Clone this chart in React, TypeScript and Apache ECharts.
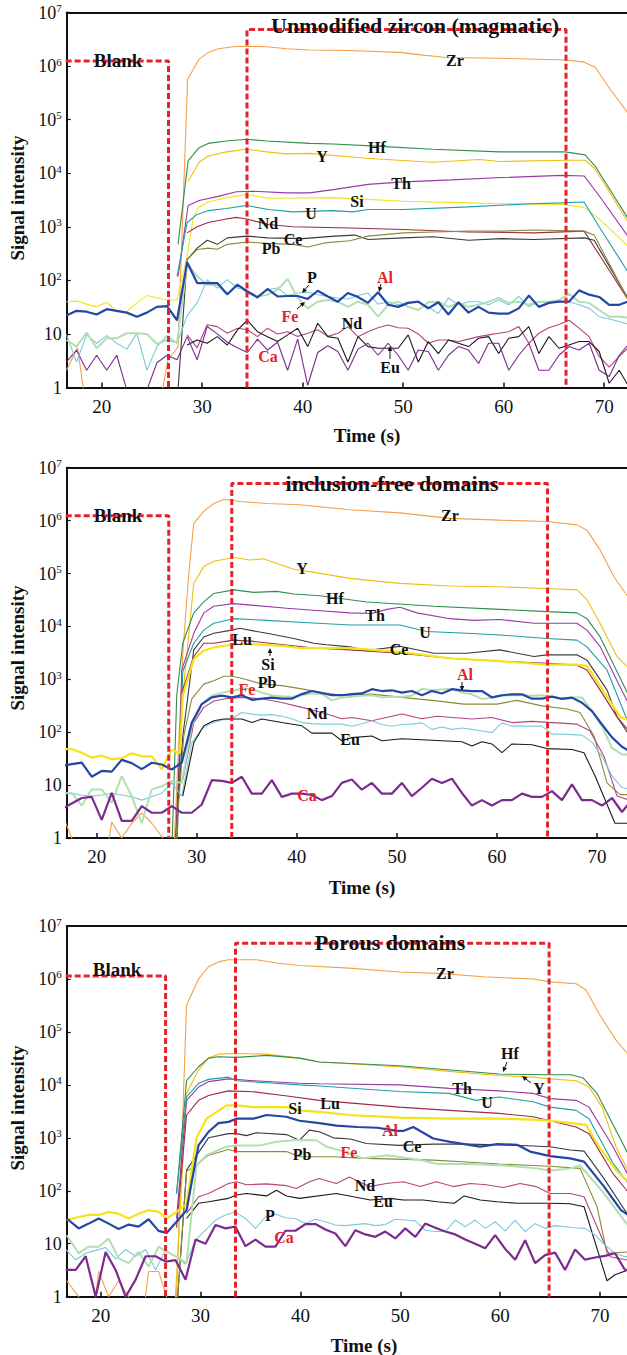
import React, { useEffect, useRef } from 'react';
import * as echarts from 'echarts';

const FONT = '"Liberation Serif", "DejaVu Serif", serif';
const RED = '#e3222b';
const BLACK = '#111111';

// common 1-s sampling grid (s)
const T = [16.5,17.5,18.5,19.5,20.5,21.5,22.5,23.5,24.5,25.5,26.5,27.5,28.5,29.5,30.5,31.5,32.5,33.5,34.5,35.5,36.5,37.5,38.5,39.5,40.5,41.5,42.5,43.5,44.5,45.5,46.5,47.5,48.5,49.5,50.5,51.5,52.5,53.5,54.5,55.5,56.5,57.5,58.5,59.5,60.5,61.5,62.5,63.5,64.5,65.5,66.5,67.5,68.5,69.5,70.5,71.5,72.5,73.5];

// ---------- Panel 1: unmodified zircon ----------
const al1 = [22,27,26,23,29,27,25,21,25,32,33,18,217,89,89,89,55,83,62,48,69,50,51,51,45,64,50,40,58,49,38,60,35,32,38,40,30,39,23,39,25,32,25,24,24,30,52,32,38,40,40,65,54,49,35,35,41,41];
const fe1 = [7.7,5.8,10.6,5.4,8.3,8.3,10.3,10.3,10,6.5,7.7,6.9,210,119,83,83,54,83,58,50,54,67,106,47,30,40,43,40,32,40,35,21,35,40,32,28,39,40,32,38,32,35,40,47,38,40,35,40,40,43,56,40,38,28,21,21,20,20];
const p1P = [9.6,3,9.6,6.7,9.3,6.7,5.2,10.3,2.1,5.8,9.3,6.7,22,38,103,72,103,72,65,50,67,72,52,58,60,54,50,47,45,52,58,36,40,35,39,39,32,24,47,35,40,40,35,43,35,50,32,40,40,40,40,35,30,21,19,17,15,15];
const ca1 = [3,5,2.1,4,2.1,4,0.9,0.9,0.9,2.9,4,3.3,8.9,3.3,13.8,10,7,5.5,4.5,8,5,7,2.1,8,1.1,4.5,6,4.7,2.1,5.2,6.7,4,6.7,4,2.1,5,4.7,2.1,4,5.8,5,2.8,6.7,6.7,2.1,4,6.7,2.1,2.1,4,5.8,5,6.7,2.1,1.6,4,6.7,6.7];
const ndLow1 = [null,null,null,null,null,null,null,null,null,null,null,null,9.6,5.5,14.8,13.7,10.3,12.8,12,8.9,12.8,10,11,9,10.3,12,9,10.3,13.7,8.9,11,13,14.7,13,12.8,10,6.7,7.7,7.7,7.2,8,8.9,9.6,10.3,11,13.7,6.7,10.3,13,15,18,12.8,8.9,3.8,2.4,3.8,5.8,5.8];
const eu1 = [null,null,null,null,null,null,null,null,null,null,null,null,6.2,7.7,6.7,8.9,6.2,11.8,18,11,8.9,7.2,9.6,12.8,5.8,15.8,8.9,8.3,3,8.9,5.8,5.4,5.4,5.4,9.6,3,7.2,4.3,7.7,6.7,5.8,8.3,8.9,4.3,8.3,8.9,13.7,4.3,8.9,5.4,6.2,7.2,7.2,4.7,1.2,2.1,1,1];
const zr1 = [[16.5,2.1],[17.6,5.5],[18.4,0.5],[25.8,0.5],[26.6,3.3],[27.6,5.7],[28.55,5.7e5],[29.7,1.35e6],[30.6,1.8e6],[31.6,2.1e6],[33.1,2.3e6],[34.4,2.35e6],[36.4,2.3e6],[38.4,2.1e6],[40.7,2.0e6],[44.6,1.95e6],[49.6,1.8e6],[52,1.6e6],[54.3,1.45e6],[59.6,1.4e6],[66.1,1.3e6],[67.9,1.2e6],[69.1,9.5e5],[70.6,3.7e5],[72.4,1.3e5]];
const hf1 = [[27.6,470],[28.6,1.7e4],[29.7,3e4],[30.6,3.6e4],[32.4,4e4],[34.4,4.3e4],[36.4,4e4],[40.7,3.6e4],[43,3.5e4],[47.3,3.2e4],[52.9,2.8e4],[59.6,2.5e4],[66.1,2.5e4],[68.1,2.2e4],[69.1,1.36e4],[72.4,1.4e3]];
const y1 = [[28.6,7e3],[29.7,1.6e4],[30.6,2.1e4],[32.4,2.5e4],[34.4,2.8e4],[36.4,2.5e4],[38.4,2.3e4],[40.7,2.35e4],[46.3,1.9e4],[52.9,1.6e4],[57.6,1.8e4],[59.6,1.65e4],[66.1,1.75e4],[68.1,1.75e4],[69.1,1.2e4],[72.4,1.2e3]];
const th1 = [[27.6,118],[28.6,2.5e3],[29.7,3.1e3],[31.6,3.7e3],[33.4,4.5e3],[35.1,4.6e3],[38.4,4.3e3],[40.7,4.3e3],[43.2,5e3],[46.5,6.2e3],[50,6.9e3],[54.8,7.5e3],[59.8,8.3e3],[65.8,9.1e3],[68,8.9e3],[69.5,3.8e3],[72.4,650]];
const si1 = [[16.5,40],[17.5,41],[18.5,36],[19.5,32],[20.5,39],[21.5,26],[22.5,26],[23.5,38],[24.5,52],[25.5,47],[26.5,43],[27.5,43],[28.5,280],[29.1,1.4e3],[29.6,2.3e3],[30.6,2.9e3],[32.4,3.5e3],[34.4,4e3],[36.6,3.4e3],[43.2,3.5e3],[50,3e3],[56.5,2.8e3],[59.8,2.7e3],[65.8,2.6e3],[68,2.3e3],[69.5,1.4e3],[72.4,430]];
const u1 = [[27.5,119],[28.5,1.2e3],[29.5,1.7e3],[30.6,2e3],[32.4,2.2e3],[34.4,2.5e3],[36.6,2.1e3],[39,1.9e3],[43,2e3],[45,1.9e3],[46.5,2.1e3],[50,2.1e3],[56.5,2.35e3],[62.8,2.7e3],[65.8,2.8e3],[68,2.9e3],[69.5,1e3],[72.4,140]];
const ndHi1 = [[28.5,770],[29.5,1e3],[30.6,1.2e3],[32.4,1.4e3],[33.4,1.5e3],[34.4,1.4e3],[36.6,1.1e3],[39,1e3],[44.7,950],[50,890],[56.5,800],[63,770],[68,830],[72.4,43]];
const ce1 = [[27.5,0.5],[28.5,245],[29.5,400],[30.5,560],[31.5,470],[32.5,620],[34.5,670],[36.5,620],[40,600],[43.2,670],[45.2,700],[46.5,580],[50,620],[53,650],[56.5,560],[59.8,600],[63,580],[68,620],[69,560],[72.4,45]];
const pb1 = [[28.5,245],[29.5,376],[30.6,400],[31.5,380],[32.5,470],[34.5,520],[36.5,490],[39,470],[40.5,420],[42.2,500],[44.7,550],[46.5,670],[50,770],[53,800],[56.5,830],[59.8,830],[63,870],[68,830],[69,700],[72.4,43]];

// ---------- Panel 2: inclusion-free domains ----------
const ca2 = [3.5,4.5,5.7,6,2.2,7.1,2.1,2.1,4,3,3,4,3,3,4.3,12.4,12,11,14.4,6.9,6.9,12.4,6,6.9,6.9,6.5,5.2,6.2,11,12.8,8.2,11,6.9,6.9,11,6.2,8.9,13.2,11,13.2,7.1,4.1,5.2,4.1,5.2,5.2,6.9,6,6,7.7,5.2,10.3,5.2,5.2,4.1,5.7,3.1,5.3];
const al2 = [23,25,26.5,14.4,18.5,18,30,26,20,26.5,24.5,19.7,26.5,150,340,455,490,455,500,410,430,450,430,430,525,600,550,500,500,525,540,650,600,620,560,600,500,600,540,650,620,600,600,455,500,520,520,430,430,470,425,450,360,250,140,80,53,41];
const fe2 = [7,7.1,4.1,8.3,8.3,4.6,14.8,6.2,1.9,8.3,9.5,12,11,132,340,490,560,600,670,660,560,500,480,470,500,540,530,400,455,470,490,500,455,470,470,490,660,620,640,660,560,520,425,455,490,500,500,490,500,470,440,455,455,250,130,50,38,38];
const p2P = [7,6.9,6.5,6.2,6.5,7,6.5,6,5.2,6,7,11,6.2,63,115,150,170,180,235,220,210,215,200,180,152,145,142,142,142,130,145,165,140,130,140,142,150,113,125,113,120,113,105,98,150,130,130,130,130,92,92,90,88,65,35,15,9,8.3];
const zr2 = [[16.5,3],[17.5,1],[18.2,0.5],[21,0.5],[21.5,2],[22.5,1],[23.5,1.9],[24.5,3],[25.5,1.9],[26.6,1],[27.2,0.5],[27.7,0.5],[28.6,3e3],[29.2,1e5],[29.7,8.9e5],[30.7,1.5e6],[31.7,2.1e6],[32.7,2.5e6],[33.7,2.4e6],[34.3,2.3e6],[37,2.1e6],[40.3,2e6],[45.3,1.6e6],[50.3,1.4e6],[55.3,1.1e6],[60.3,1.02e6],[65,9.6e5],[68,8.3e5],[69,6.6e5],[70.3,2.8e5],[71.7,8.7e4],[73.2,3.4e4]];
const y2 = [[28.6,500],[29.7,6.5e4],[30.7,1.35e5],[31.7,1.7e5],[33.7,2e5],[35.3,1.8e5],[36.7,1.9e5],[38,1.55e5],[39.7,1.2e5],[41.7,1.05e5],[45.3,8.1e4],[50.3,6.5e4],[55.3,5.8e4],[60.3,5.6e4],[65,5.2e4],[68,4.9e4],[69,3.2e4],[70.3,1.15e4],[72,2.7e3],[73.2,1.6e3]];
const hf2 = [[27.5,0.5],[28,500],[28.6,4.8e3],[29.7,1.8e4],[30.7,2.9e4],[31.7,4.2e4],[33.7,4.9e4],[35.7,4.4e4],[38,4.6e4],[39.7,4.1e4],[42.3,3.8e4],[47,2.9e4],[53.7,2.4e4],[60.3,2.1e4],[65,1.9e4],[68,1.8e4],[69,1.4e4],[70.3,6.4e3],[73.2,480]];
const th2 = [[28,0.5],[28.5,1.5e3],[29.7,7.4e3],[30.7,1.8e4],[31.7,2.4e4],[33.7,2.7e4],[35.7,2.5e4],[39,2.2e4],[42,2e4],[45.3,1.8e4],[47.5,1.75e4],[49,2.1e4],[50.3,2.3e4],[52,1.8e4],[55.3,1.4e4],[57.7,1.3e4],[60.3,1.35e4],[63.7,1.15e4],[68,1.15e4],[69,8.5e3],[70.3,4.2e3],[73.2,330]];
const u2 = [[28,0.5],[28.6,1.4e3],[29.7,4.8e3],[30.7,8.5e3],[31.7,1.15e4],[33.7,1.4e4],[37,1.3e4],[40.3,1.2e4],[45.3,1.06e4],[50.3,1.06e4],[53,8e3],[57,7.4e3],[60.3,6.9e3],[65,5.9e3],[68,5.5e3],[69,4.1e3],[71,1.5e3],[73.2,140]];
const ce2 = [[27.8,0.5],[28.6,83],[29.7,3.6e3],[30.7,6.3e3],[31.7,7.4e3],[33.5,8.5e3],[34.3,9.2e3],[37,7.4e3],[39.7,5.9e3],[41.7,4.8e3],[43,4.5e3],[45.3,4.1e3],[47,3.5e3],[50.3,4.2e3],[53.7,3.1e3],[57,3.1e3],[60.3,3.6e3],[63.7,2.7e3],[65,2.9e3],[68,2.9e3],[69,2.3e3],[71,630],[72,196],[73.2,90]];
const lu2 = [[27.8,0.5],[28.6,630],[29.7,2.7e3],[30.7,4.8e3],[31.7,4.8e3],[33.7,5.5e3],[35.7,5.2e3],[38.7,4.5e3],[41.7,3.9e3],[45.3,3.6e3],[50.3,3.1e3],[55.3,2.5e3],[60.3,2.2e3],[65,2e3],[68,1.85e3],[69,1.5e3],[70.3,630],[72,195],[73.2,105]];
const si2 = [[16.5,48],[17.5,48],[18.5,41],[19.5,33],[20.5,36],[21.5,31],[22.5,32],[23.5,40],[24.5,35],[25.5,35],[26.5,20],[27.5,46],[28.3,40],[28.6,490],[29.7,2.4e3],[30.7,3.5e3],[31.7,4e3],[33.5,4.5e3],[34.5,4.7e3],[36.5,4.5e3],[38.5,4.3e3],[40.3,3.9e3],[45.3,3.9e3],[50.3,3.3e3],[55.3,2.5e3],[60.3,2.2e3],[65,1.9e3],[68,1.9e3],[69,1.8e3],[71,470],[72.3,195],[73.2,170]];
const pb2 = [[27.8,0.5],[28.7,85],[29.5,425],[30.7,810],[31.7,940],[32.7,1.14e3],[33.5,1.14e3],[34.5,1.05e3],[36.5,810],[38.5,760],[40.5,660],[42.5,560],[44.5,500],[47.5,525],[50.5,455],[53.5,400],[56.7,340],[60,340],[62,400],[64.5,315],[67,275],[68.3,235],[69.7,85],[71,11],[72.3,6.6],[73.5,6.6]];
const nd2 = [[28.6,12.7],[29.7,150],[30.7,295],[31.7,390],[32.7,425],[34.5,455],[36.5,430],[38.5,365],[40.5,295],[42.5,235],[44.5,180],[45.5,190],[47.5,165],[50.5,220],[52.5,180],[54,200],[57.5,178],[59.5,190],[61.5,152],[63.5,160],[66,150],[68,142],[69.3,106],[70.7,35],[72,6.2],[73.5,5]];
const eu2 = [[28.6,6.2],[29.7,63],[30.7,132],[31.7,165],[32.7,178],[34.5,178],[35.5,152],[36.5,178],[38.5,152],[40.5,132],[41.5,96],[43.5,96],[44.5,69],[45.5,79],[47.5,85],[48.5,69],[50.5,75],[52.5,72],[54.5,69],[56.5,66],[57.5,55],[58.5,66],[59.5,60],[60.5,41],[61.5,60],[63.5,58],[65,49],[67.5,47],[68.7,41],[69.8,15],[71.8,1.9],[73.5,1.9]];

// ---------- Panel 3: porous domains ----------
const ca3 = [3.2,3.2,5.8,1,7,3.2,1,2.1,5.8,5.8,4.6,4.9,2.1,12,10,22.6,19.5,21,9,12,8.8,8.8,17.6,17.6,23.5,23.5,18.6,15.6,9,18,15,13.5,17,12.6,19.5,13.5,24,20,17,15,12,10,8.2,14.6,8,5,11.7,4.3,6.1,6.8,3.2,7.8,5,5.5,5.9,6.6,3.2,3.2];
const p3P = [7.8,5,6.6,7.5,8.5,5.2,7.8,5.8,7.8,3.2,7.6,5.7,4.1,11.7,18,28,35,40,30,19.5,32,36,31,30,24,29,26,22.6,22,23,24,22,23,29,28,27,18,17,17,28,21,28,19.5,26,17.5,28,17,24,19.5,22,21,20,19.5,14.6,9.4,6.6,5.7,5.7];
const zr3 = [[16.6,2],[17.8,1],[18.3,0.5],[19.3,0.5],[19.8,3],[20.8,1],[21.8,2],[22.8,1],[23.3,0.5],[24.3,0.5],[24.8,3],[25.8,3],[26.6,1],[27.1,0.5],[27.6,1],[28.6,3.2e5],[29.8,1e6],[30.8,1.7e6],[31.8,2.1e6],[32.8,2.3e6],[35.6,2.3e6],[37.6,2e6],[39.9,1.8e6],[44.9,1.6e6],[49.9,1.35e6],[54.3,1.26e6],[58.3,1.1e6],[63.3,1e6],[65,8.8e5],[67.6,8.1e5],[68.6,6.2e5],[69.9,2.2e5],[71.6,7e4],[72.8,3.8e4]];
const y3 = [[27.4,0.5],[28.6,6.9e3],[29.8,1.9e4],[30.8,3.2e4],[31.8,3.8e4],[33.6,3.9e4],[36.6,3.8e4],[39.9,3.2e4],[41.9,2.7e4],[44.9,2.5e4],[49.9,2.2e4],[54.9,1.8e4],[59.9,1.5e4],[63.3,1.4e4],[65,1.3e4],[67.6,1.2e4],[68.9,9.1e3],[70.2,3.8e3],[71.6,680],[72.8,240]];
const hf3 = [[27.6,89],[28.6,1.2e4],[29.8,2.2e4],[30.8,3.2e4],[31.8,3.4e4],[33.6,3.3e4],[36.6,3.6e4],[39.9,3.2e4],[41.9,2.7e4],[49.9,2.3e4],[59.9,1.6e4],[65,1.55e4],[67.1,1.55e4],[68.3,1.35e4],[69.7,6.9e3],[72.8,500]];
const th3 = [[27.6,30],[28.6,5.1e3],[29.8,9.1e3],[30.8,1.15e4],[32.8,1.3e4],[35.3,1.2e4],[39.9,1.07e4],[41.9,1.05e4],[49.9,1e4],[54.9,8.6e3],[59.9,7.7e3],[63.3,6.9e3],[65,5.5e3],[67.6,5.1e3],[68.9,3.8e3],[71.3,680],[72.8,200]];
const u3 = [[27.6,89],[28.6,5.9e3],[29.8,1.07e4],[30.8,1.27e4],[32.8,1.4e4],[33.6,1.2e4],[36.6,1.1e4],[39.9,1e4],[41.9,9.5e3],[49.9,7.5e3],[54.9,6.9e3],[57.6,5.1e3],[59.9,5.9e3],[63.3,4.8e3],[65,3.8e3],[67.6,3.3e3],[68.9,2.3e3],[71.3,330],[72.8,140]];
const lu3 = [[27.6,20],[28.6,2.7e3],[29.8,5.1e3],[30.8,6.3e3],[32.8,7.7e3],[35.3,7.4e3],[38.3,6.3e3],[41.9,5.1e3],[49.9,3.8e3],[54.9,3.3e3],[59.9,2.9e3],[63.3,2.5e3],[65,2.1e3],[67.6,1.6e3],[68.9,1.2e3],[71.3,210],[72.8,95]];
const si3 = [[16.6,28],[17.8,32],[18.8,35],[19.8,35],[20.8,40],[21.8,37],[22.8,30],[23.8,37],[24.8,43],[25.8,40],[26.6,30],[27.6,40],[28.6,56],[29.6,1e3],[30.6,2.3e3],[32.6,4.1e3],[33.6,4.1e3],[35.3,3.8e3],[38.6,3.8e3],[39.9,3.3e3],[41.9,3.1e3],[44.9,2.7e3],[49.9,2.4e3],[54.9,2.3e3],[59.9,2.3e3],[63.3,2.2e3],[65,2.1e3],[67.6,1.85e3],[68.6,1.75e3],[69.9,680],[71.6,245],[72.8,150]];
const al3 = [[16.6,30],[17.8,19.5],[18.8,24],[19.8,30],[20.8,24],[21.8,19],[22.8,23],[23.8,21],[24.8,29],[25.8,17.5],[26.6,16],[27.6,26],[28.6,43],[29.8,730],[30.8,1.3e3],[31.8,1.9e3],[32.8,2e3],[33.6,2.3e3],[35.3,2.3e3],[36.6,2.7e3],[38.6,2.5e3],[39.9,2.1e3],[41.9,1.9e3],[43.6,1.7e3],[45.7,1.6e3],[47.7,1.55e3],[49.7,1.35e3],[50.3,1.35e3],[51.3,1.6e3],[53.3,970],[55,840],[58,680],[59.7,760],[61.7,740],[63,550],[65,450],[67,410],[68.4,355],[70.4,120],[72.1,43],[72.8,35]];
const ce3 = [[27.6,0.5],[28.6,245],[30.8,1e3],[32.8,1.2e3],[33.6,1.2e3],[34.6,1.1e3],[35.6,1.25e3],[38.6,1.15e3],[39.9,900],[40.9,1.4e3],[41.9,1.3e3],[43.3,1e3],[45,950],[46.6,780],[49.9,720],[53.3,760],[56.6,760],[59.9,740],[63.3,700],[65,680],[67,590],[68.4,560],[70.4,170],[72.8,35]];
const fe3 = [[16.6,14.5],[17.8,6.6],[18.8,8.8],[19.8,8.8],[20.8,12.6],[21.8,5.3],[22.8,4.3],[23.8,7],[24.8,3.7],[25.8,8.8],[26.6,7],[27.6,5.7],[28.6,4.3],[29.6,300],[30.6,470],[32.6,680],[33.6,720],[36,720],[37.6,840],[39.6,910],[41.6,900],[42.6,680],[44.4,550],[46.3,410],[48.7,470],[52,380],[53.7,320],[57,320],[60.4,300],[63.7,265],[65,240],[67,265],[68,300],[70.4,89],[72.8,22]];
const pb3 = [[27.6,0.5],[28.6,230],[29.8,330],[30.8,470],[32.8,600],[33.6,550],[38.6,550],[39.9,440],[43.3,440],[46.6,410],[53.3,380],[56.6,350],[59.9,320],[63.3,300],[65,290],[68,265],[69.7,50],[70.7,6.6],[72.8,7]];
const nd3 = [[28.6,37],[29.8,77],[30.8,89],[31.8,110],[32.8,137],[33.6,148],[34.6,130],[36.6,135],[38.6,125],[39.6,110],[40.9,148],[41.9,170],[43.6,137],[44.9,183],[46.9,120],[48.6,137],[50.3,148],[52,120],[53.6,148],[55.3,120],[57,137],[58.6,130],[60.3,115],[62,137],[63.6,120],[65,89],[67,89],[68.4,77],[69.7,21],[71,5.7],[72.8,4.9]];
const eu3 = [[28.6,30],[29.8,58],[30.8,62],[32.8,72],[33.6,83],[34.6,89],[36.6,80],[37.6,102],[38.6,80],[39.9,72],[43.6,89],[45.3,77],[47,67],[49,72],[50.3,67],[52.3,67],[53.7,62],[55.4,58],[56.4,80],[58,67],[59.7,62],[61.7,58],[63.7,58],[65,58],[67,57],[68.4,50],[70.7,2],[71.5,2.6],[72.8,3.2]];

// dashed windows: [blank end time, blank level, window start, window end, window level]
const win1 = [26.65, 1.25e6, 34.46, 66.2, 4.8e6];
const win2 = [27.2, 1.23e6, 33.5, 65.06, 5e6];
const win3 = [26.5, 1.14e6, 33.5, 64.9, 4.7e6];

const COL = {
  Zr: '#f5a04a', Hf: '#2f8f4e', Y: '#efbf10', Th: '#9a3aa6', Si: '#f2e418', U: '#1f9ea6',
  Lu: '#9c2b45', Ce: '#3a3a3a', Pb: '#8a8a3a', P: '#7ccbd8', Fe: '#b2dfb0', Al: '#2446a6',
  Ca: '#7c2a8f', Nd: '#b5447f', Eu: '#1a1a1a',
};

const PANELS = [
  { top: 12.5, height: 375, xMin: 16.52, xMax: 72.27 },
  { top: 467.7, height: 370.3, xMin: 17.0, xMax: 73.0 },
  { top: 926, height: 370.7, xMin: 16.6, xMax: 72.7 },
];

const dense = (vals: (number | null)[]) => T.map((t, i) => [t, vals[i] == null ? '-' : vals[i]]);

function line(gi: number, data: any[], color: string, width = 1.1) {
  return {
    type: 'line', xAxisIndex: gi * 2, yAxisIndex: gi, data, symbol: 'none', showSymbol: false,
    lineStyle: { color, width }, itemStyle: { color }, silent: true, clip: true, animation: false,
  };
}

function windows(gi: number, w: number[], xMin: number) {
  const st = { color: RED, width: 3, type: [6, 3] };
  return [
    { type: 'line', xAxisIndex: gi * 2, yAxisIndex: gi, data: [[xMin - 1, w[1]], [w[0], w[1]], [w[0], 1]], symbol: 'none', lineStyle: st, silent: true, z: 5 },
    { type: 'line', xAxisIndex: gi * 2, yAxisIndex: gi, data: [[w[2], 1], [w[2], w[4]], [w[3], w[4]], [w[3], 1]], symbol: 'none', lineStyle: st, silent: true, z: 5 },
  ];
}

const txt = (text: string, x: number, y: number, size = 16, color = BLACK, rotation = 0) => ({
  type: 'text', x, y, rotation, z: 100, silent: true,
  style: { text, fill: color, font: `bold ${size}px ${FONT}`, textAlign: 'center', textVerticalAlign: 'middle', align: 'center', verticalAlign: 'middle' },
});

function arrow(x1: number, y1: number, x2: number, y2: number) {
  const a = Math.atan2(y2 - y1, x2 - x1);
  const L = 5, W = 2.3;
  const bx = x2 - L * Math.cos(a), by = y2 - L * Math.sin(a);
  const px = -Math.sin(a) * W, py = Math.cos(a) * W;
  return [
    { type: 'line', z: 100, silent: true, shape: { x1, y1, x2: bx, y2: by }, style: { stroke: BLACK, lineWidth: 1 } },
    { type: 'polygon', z: 100, silent: true, shape: { points: [[x2, y2], [bx + px, by + py], [bx - px, by - py]] }, style: { fill: BLACK } },
  ];
}

export default function App() {
  const ref = useRef<HTMLDivElement>(null);
  useEffect(() => {
    if (!ref.current) return;
    const chart = echarts.init(ref.current, undefined, { renderer: 'svg' });

    const grid = PANELS.map((p) => ({ left: 66.7, width: 560.3, top: p.top, height: p.height }));
    const xAxis: any[] = [];
    const yAxis: any[] = [];
    PANELS.forEach((p, i) => {
      xAxis.push({
        gridIndex: i, type: 'value', min: p.xMin, max: p.xMax, position: 'bottom',
        axisLine: { show: true, onZero: false, lineStyle: { color: BLACK, width: 2 } },
        axisTick: { show: true, inside: true, length: 5, lineStyle: { color: BLACK, width: 1.5 } },
        axisLabel: {
          fontFamily: FONT, fontSize: 19, color: BLACK, margin: 9, showMinLabel: false, showMaxLabel: false,
          formatter: (v: number) => (Math.abs(v - Math.round(v / 10) * 10) < 1e-6 ? String(Math.round(v)) : ''),
        },
        splitLine: { show: false },
      });
      xAxis.push({
        gridIndex: i, type: 'value', min: p.xMin, max: p.xMax, position: 'top',
        axisLine: { show: true, onZero: false, lineStyle: { color: BLACK, width: 2 } },
        axisTick: { show: false }, axisLabel: { show: false }, splitLine: { show: false },
      });
      yAxis.push({
        gridIndex: i, type: 'log', logBase: 10, min: 1, max: 1e7,
        axisLine: { show: true, onZero: false, lineStyle: { color: BLACK, width: 2 } },
        axisTick: { show: true, inside: true, length: 4, lineStyle: { color: BLACK, width: 1.2 } },
        splitLine: { show: false },
        axisLabel: {
          margin: 5, color: BLACK,
          formatter: (v: number) => {
            const e = Math.round(Math.log10(v));
            if (e === 0) return '{b|1}';
            if (e === 1) return '{b|10}';
            return '{b|10}{s|' + e + '}';
          },
          rich: {
            b: { fontFamily: FONT, fontSize: 18, color: BLACK, lineHeight: 20 },
            s: { fontFamily: FONT, fontSize: 11, color: BLACK, verticalAlign: 'top', lineHeight: 11 },
          },
        },
      });
    });

    const series: any[] = [
      // panel 1
      line(0, zr1, COL.Zr), line(0, hf1, COL.Hf), line(0, y1, COL.Y), line(0, th1, COL.Th),
      line(0, si1, COL.Si), line(0, u1, COL.U), line(0, ndHi1, COL.Lu), line(0, ce1, COL.Ce),
      line(0, pb1, COL.Pb), line(0, dense(ndLow1), COL.Nd), line(0, dense(eu1), COL.Eu),
      line(0, dense(ca1), COL.Ca), line(0, dense(p1P), COL.P), line(0, dense(fe1), COL.Fe, 2),
      line(0, dense(al1), COL.Al, 2.2),
      ...windows(0, win1, PANELS[0].xMin),
      // panel 2
      line(1, zr2, COL.Zr), line(1, y2, COL.Y), line(1, hf2, COL.Hf), line(1, th2, COL.Th),
      line(1, u2, COL.U), line(1, ce2, COL.Ce), line(1, lu2, COL.Lu), line(1, pb2, COL.Pb),
      line(1, nd2, COL.Nd), line(1, dense(p2P), COL.P), line(1, eu2, COL.Eu),
      line(1, dense(fe2), COL.Fe, 2), line(1, si2, COL.Si, 2.2), line(1, dense(al2), COL.Al, 2.2),
      line(1, dense(ca2), COL.Ca, 2.2),
      ...windows(1, win2, PANELS[1].xMin),
      // panel 3
      line(2, zr3, COL.Zr), line(2, y3, COL.Y), line(2, hf3, COL.Hf), line(2, th3, COL.Th),
      line(2, u3, COL.U), line(2, lu3, COL.Lu), line(2, ce3, COL.Ce), line(2, pb3, COL.Pb),
      line(2, nd3, COL.Nd), line(2, eu3, COL.Eu), line(2, dense(p3P), COL.P),
      line(2, fe3, COL.Fe, 2), line(2, si3, COL.Si, 2.2), line(2, al3, COL.Al, 2.2),
      line(2, dense(ca3), COL.Ca, 2.2),
      ...windows(2, win3, PANELS[2].xMin),
    ];

    const graphic: any[] = [
      // axis titles
      txt('Signal intensity', 17, 198, 19, BLACK, Math.PI / 2),
      txt('Signal intensity', 17, 648, 19, BLACK, Math.PI / 2),
      txt('Signal intensity', 17, 1108, 19, BLACK, Math.PI / 2),
      txt('Time (s)', 367, 435, 19), txt('Time (s)', 362, 887, 19), txt('Time (s)', 364, 1345, 19),
      // panel 1
      txt('Blank', 118, 60, 19), txt('Unmodified zircon (magmatic)', 415, 25, 22),
      txt('Zr', 455, 60), txt('Hf', 377, 147), txt('Y', 322, 156), txt('Th', 401, 183),
      txt('Si', 357, 201), txt('U', 311, 213), txt('Nd', 268, 223), txt('Ce', 293, 239),
      txt('Pb', 271, 248), txt('P', 312, 277), txt('Fe', 290, 316, 16, RED), txt('Al', 385, 277, 16, RED),
      txt('Nd', 352, 323), txt('Eu', 390, 367), txt('Ca', 268, 356, 16, RED),
      ...arrow(309, 285, 302, 293), ...arrow(297, 309, 305, 302), ...arrow(381, 284, 379, 292), ...arrow(390, 359, 390, 346),
      // panel 2
      txt('Blank', 118, 515, 19), txt('inclusion-free domains', 392, 483, 22),
      txt('Zr', 450, 515), txt('Y', 302, 568), txt('Hf', 335, 598), txt('Th', 375, 615),
      txt('U', 425, 632), txt('Ce', 399, 649), txt('Lu', 242, 639), txt('Si', 268, 664),
      txt('Pb', 267, 682), txt('Fe', 247, 689, 16, RED), txt('Al', 465, 674, 16, RED),
      txt('Nd', 317, 713), txt('Eu', 350, 739), txt('Ca', 307, 795, 16, RED),
      ...arrow(270, 656, 270, 648), ...arrow(462, 682, 462, 691),
      // panel 3
      txt('Blank', 117, 969, 19), txt('Porous domains', 390, 942, 22),
      txt('Zr', 445, 973), txt('Hf', 510, 1053), txt('Y', 539, 1088), txt('Th', 462, 1088),
      txt('U', 487, 1102), txt('Lu', 330, 1103), txt('Si', 295, 1108), txt('Al', 390, 1130, 16, RED),
      txt('Ce', 412, 1146), txt('Fe', 349, 1152, 16, RED), txt('Pb', 302, 1154), txt('Nd', 365, 1185),
      txt('Eu', 383, 1201), txt('P', 270, 1215), txt('Ca', 284, 1237, 16, RED),
      ...arrow(507, 1062, 503, 1072), ...arrow(531, 1083, 522, 1076),
    ];

    chart.setOption({ animation: false, backgroundColor: '#ffffff', grid, xAxis, yAxis, series, graphic });
    return () => chart.dispose();
  }, []);
  return <div ref={ref} style={{ position: 'absolute', left: 0, top: 0, width: 627, height: 1355, background: '#fff' }} />;
}
